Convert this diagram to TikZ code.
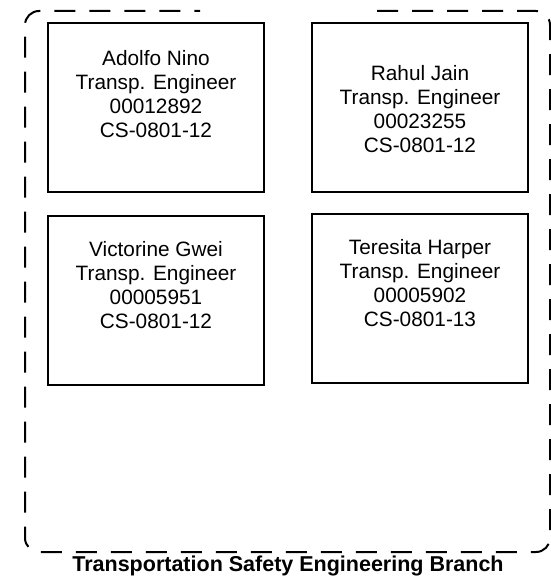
\documentclass[tikz,border=0pt]{standalone}
\usepackage{fontspec}
\setmainfont{Liberation Sans}
\usetikzlibrary{positioning}

\begin{document}
\begin{tikzpicture}[x=1pt, y=-1pt,
  every node/.style={font=\fontsize{20.8}{24}\selectfont},
  card/.style={draw, line width=2pt, minimum width=216pt, minimum height=169pt, inner sep=0pt},
  info/.style={align=center, inner sep=0pt},
  branch/.style={draw, line width=2pt, dash pattern=on 21pt off 14pt, rounded corners=14pt}]
\useasboundingbox (0,0) rectangle (551,578);
% outer branch frame, open at the top
\draw[branch] (377,11) -- (550,11) -- (550,552) -- (25,552) -- (25,11) -- (200,11);
\node[font=\bfseries\fontsize{21.5}{24}\selectfont] (title) at (288,566) {Transportation Safety Engineering Branch};
% staff cards
\node[card] (nino) at (156,107.5) {};
\node[card] (jain) at (420,107.5) {};
\node[card] (gwei) at (156,300) {};
\node[card] (harper) at (420,298.5) {};
\node[info] at ([yshift=13.5pt]nino.center) {Adolfo Nino\\Transp. Engineer\\00012892\\CS-0801-12};
\node[info] at ([yshift=-1.5pt]jain.center) {Rahul Jain\\Transp. Engineer\\00023255\\CS-0801-12};
\node[info] at ([yshift=15pt]gwei.center) {Victorine Gwei\\Transp. Engineer\\00005951\\CS-0801-12};
\node[info] at ([yshift=15pt]harper.center) {Teresita Harper\\Transp. Engineer\\00005902\\CS-0801-13};
\end{tikzpicture}
\end{document}
